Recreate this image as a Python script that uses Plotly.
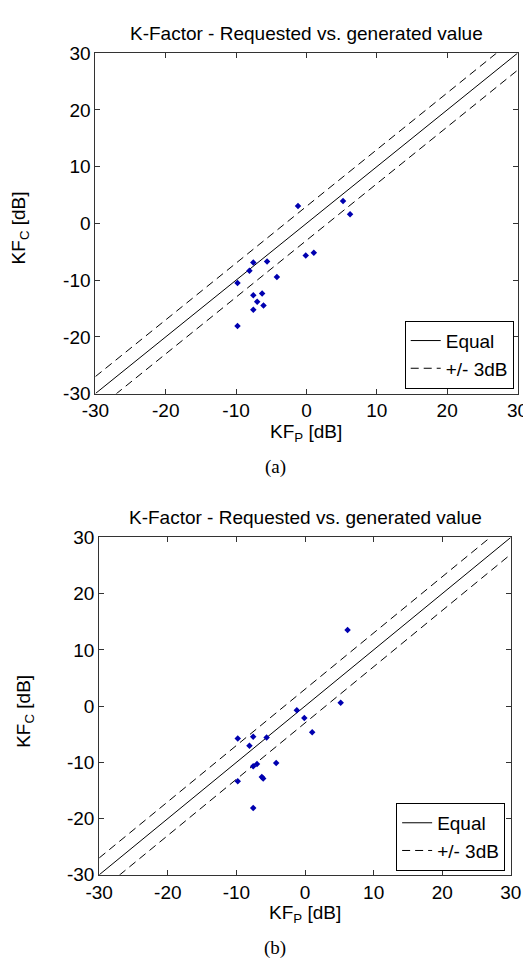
import plotly.graph_objects as go

# ---- data ----
kf_p = [-1.2, 5.2, 6.2, -0.1, 1.05, -7.55, -5.6, -8.1, -4.2, -9.8,
        -7.55, -6.3, -7.0, -6.1, -7.55, -9.8]
kf_c_a = [3.05, 3.97, 1.6, -5.64, -5.17, -6.9, -6.72, -8.33, -9.43, -10.52,
          -12.67, -12.36, -13.79, -14.48, -15.22, -18.1]
kf_c_b = [-0.73, 0.61, 13.53, -2.12, -4.66, -5.43, -5.6, -7.04, -10.12, -5.77,
          -10.7, -12.6, -10.3, -12.87, -18.12, -13.36]
tick_vals = [-30, -20, -10, 0, 10, 20, 30]
tick_text = ["-30", "-20", "-10", "0", "10", "20", "30"]
axis_range = [-30, 30]
band_db = 3

FONT = "Liberation Sans"
FS = 19
W, H = 531, 960


def px_x(p):
    return p / W


def px_y(p):
    return 1 - p / H


fig = go.Figure()

panels = [
    dict(y=kf_c_a, xa="x", ya="y", leg="legend"),
    dict(y=kf_c_b, xa="x2", ya="y2", leg="legend2"),
]
line_x = axis_range
for pnl in panels:
    fig.add_trace(go.Scatter(
        x=line_x, y=line_x, mode="lines", name="Equal",
        line=dict(color="black", width=1),
        xaxis=pnl["xa"], yaxis=pnl["ya"], legend=pnl["leg"]))
    fig.add_trace(go.Scatter(
        x=line_x, y=[v + band_db for v in line_x], mode="lines", name="+/- 3dB",
        line=dict(color="black", width=1, dash="8px,5px"),
        xaxis=pnl["xa"], yaxis=pnl["ya"], legend=pnl["leg"]))
    fig.add_trace(go.Scatter(
        x=line_x, y=[v - band_db for v in line_x], mode="lines", name="+/- 3dB",
        line=dict(color="black", width=1, dash="8px,5px"), showlegend=False,
        xaxis=pnl["xa"], yaxis=pnl["ya"]))
    fig.add_trace(go.Scatter(
        x=kf_p, y=pnl["y"], mode="markers", showlegend=False,
        marker=dict(symbol="diamond", size=5, color="#0000b0"),
        xaxis=pnl["xa"], yaxis=pnl["ya"]))

axis_common = dict(
    range=axis_range, tickvals=tick_vals, ticktext=tick_text,
    ticks="inside", ticklen=5,
    tickcolor="#333", showline=True, linecolor="#333", linewidth=1,
    mirror="ticks", showgrid=False, zeroline=False,
    tickfont=dict(family=FONT, size=FS, color="black"),
)

# panel pixel boxes: (left, right, top, bottom)
box_a = (77, 520, 36, 384)
box_b = (81, 513, 531, 876)

legend_common = dict(xanchor="right", yanchor="bottom",
                     bordercolor="black", borderwidth=1, bgcolor="white",
                     font=dict(family=FONT, size=FS, color="black"),
                     tracegroupgap=0)

fig.update_layout(
    width=W, height=H, autosize=False,
    margin=dict(l=0, r=0, t=0, b=0),
    paper_bgcolor="white", plot_bgcolor="white",
    showlegend=True,
    xaxis=dict(domain=[px_x(box_a[0]), px_x(box_a[1])], anchor="y", **axis_common),
    yaxis=dict(domain=[px_y(box_a[3]), px_y(box_a[2])], anchor="x", **axis_common),
    xaxis2=dict(domain=[px_x(box_b[0]), px_x(box_b[1])], anchor="y2", **axis_common),
    yaxis2=dict(domain=[px_y(box_b[3]), px_y(box_b[2])], anchor="x2", **axis_common),
    legend=dict(x=px_x(516), y=px_y(379), **legend_common),
    legend2=dict(x=px_x(507), y=px_y(872), **legend_common),
)

title = "K-Factor - Requested vs. generated value"
ann = []
for box, cap, ylabel_x in [(box_a, "(a)", 20), (box_b, "(b)", 25)]:
    l, r, t, b = box
    cx = (l + r) / 2
    ann.append(dict(text=title, x=px_x(cx), y=px_y(t - 20), xref="paper", yref="paper",
                    showarrow=False, xanchor="center", yanchor="middle",
                    font=dict(family=FONT, size=FS, color="black")))
    ann.append(dict(text="KF<sub>P</sub> [dB]", x=px_x(cx), y=px_y(b + 40),
                    xref="paper", yref="paper", showarrow=False,
                    xanchor="center", yanchor="middle",
                    font=dict(family=FONT, size=FS, color="black")))
    ann.append(dict(text="KF<sub>C</sub> [dB]", x=px_x(ylabel_x - 22), y=px_y((t + b) / 2 + 5),
                    xref="paper", yref="paper", showarrow=False, textangle=-90,
                    xanchor="center", yanchor="middle",
                    font=dict(family=FONT, size=FS, color="black")))
    ann.append(dict(text=cap, x=px_x(266), y=px_y(b + 75), xref="paper", yref="paper",
                    showarrow=False, xanchor="center", yanchor="middle",
                    font=dict(family="Liberation Serif", size=19, color="black")))
fig.update_layout(annotations=ann)

fig.write_html("out.html")
